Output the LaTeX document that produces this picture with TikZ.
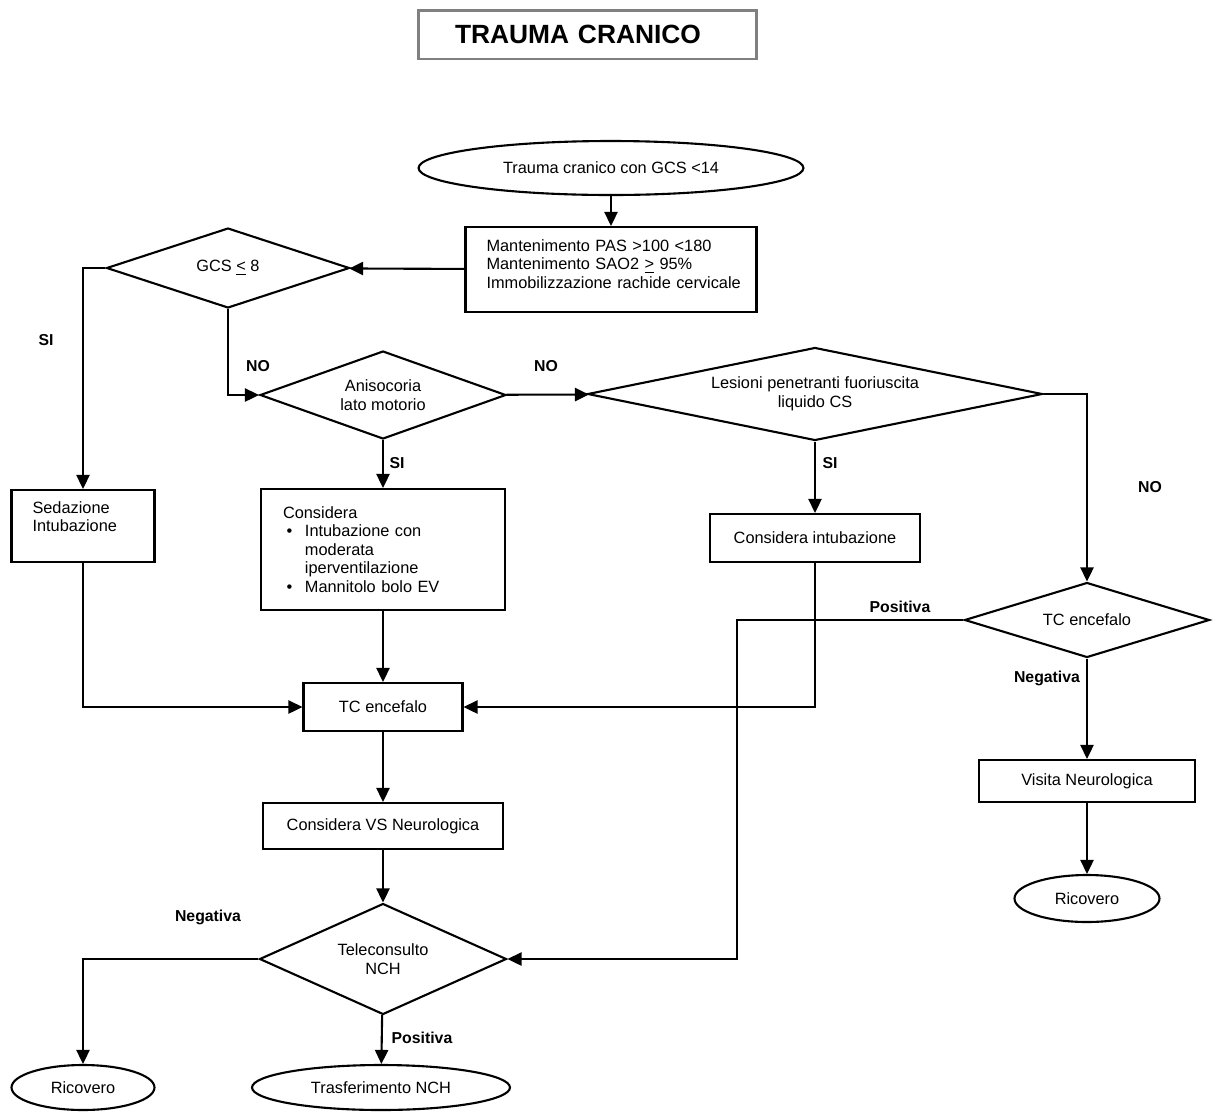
\documentclass[tikz,border=0pt]{standalone}
\usepackage{fontspec}
\setmainfont{Liberation Sans}
\usetikzlibrary{shapes.geometric,arrows.meta}

\newcommand{\fctext}{\fontsize{9.3}{10.6}\selectfont}
\newcommand{\fclabel}{\fontsize{9}{11}\selectfont\bfseries}

\tikzset{
  box/.style={draw,line width=1.2pt,rectangle,inner sep=0pt,font=\fctext},
  decision/.style={draw,line width=1.2pt,diamond,inner sep=0pt,align=center,font=\fctext},
  terminal/.style={draw,line width=1.2pt,ellipse,inner sep=0pt,font=\fctext},
  lbl/.style={font=\fclabel,inner sep=0pt},
  flow/.style={line width=1.2pt,-{Triangle[length=8pt,width=7.5pt]}}
}

\begin{document}
\begin{tikzpicture}[x=0.02cm,y=-0.02cm]
            \useasboundingbox (0,0) rectangle (1221,1113);

            % Nodes
            \node[draw=gray,line width=1.7pt,minimum width=6.78cm,minimum height=0.98cm,
                  text width=5.3cm,align=left,inner sep=0pt,
                  font=\fontsize{15}{18}\selectfont\bfseries] (title) at (587.5,34.5) {TRAUMA CRANICO};

            \node[terminal,minimum width=7.7cm,minimum height=1.08cm] (start) at (611,168) {Trauma cranico con GCS <14};
            \node[box,minimum width=5.82cm,minimum height=1.7cm,text width=4.98cm,align=left] (vitals) at (611,269.5)
                {\mbox{Mantenimento PAS >100 <180}\\\mbox{Mantenimento SAO2 \underline{>} 95\%}\\\mbox{Immobilizzazione rachide cervicale}\\[-4pt]~};

            \node[decision,aspect=3,minimum width=4.86cm,minimum height=1.6cm] (gcs) at (228,268) {GCS \underline{<} 8};
            \node[decision,aspect=2.8,minimum width=4.92cm,minimum height=1.76cm] (aniso) at (383,395) {Anisocoria\\lato motorio};
            \node[decision,aspect=4.9,minimum width=9.1cm,minimum height=1.86cm] (lesioni) at (815,394) {Lesioni penetranti fuoriuscita\\liquido CS};

            \node[box,minimum width=2.86cm,minimum height=1.44cm,text width=2.02cm,align=left] (sedaz) at (83,526)
                {Sedazione\\Intubazione\\~};
            \node[box,minimum width=4.88cm,minimum height=2.42cm,text width=4.0cm,align=left] (consid) at (383,549.5)
                {Considera\\
                 \makebox[12.5pt][l]{\hspace{2pt}\textbullet}Intubazione con\\
                 \hspace*{12.5pt}moderata\\
                 \hspace*{12.5pt}iperventilazione\\
                 \makebox[12.5pt][l]{\hspace{2pt}\textbullet}Mannitolo bolo EV};
            \node[box,minimum width=4.2cm,minimum height=0.96cm] (consint) at (815,538) {Considera intubazione};

            \node[decision,aspect=3.3,minimum width=4.9cm,minimum height=1.5cm] (tcr) at (1087,620) {TC encefalo};
            \node[box,minimum width=3.18cm,minimum height=0.96cm] (tc) at (383,707) {TC encefalo};
            \node[box,minimum width=4.8cm,minimum height=0.92cm] (vs) at (383,826) {Considera VS Neurologica};
            \node[box,minimum width=4.32cm,minimum height=0.84cm] (visita) at (1087,781) {Visita Neurologica};
            \node[terminal,minimum width=2.9cm,minimum height=0.94cm] (ricR) at (1087,898.5) {Ricovero};

            \node[decision,aspect=2.2,minimum width=4.94cm,minimum height=2.22cm] (tele) at (383,959) {Teleconsulto\\NCH};
            \node[terminal,minimum width=2.86cm,minimum height=0.9cm] (ricL) at (83,1087.5) {Ricovero};
            \node[terminal,minimum width=5.16cm,minimum height=0.9cm] (trasf) at (381,1087.5) {Trasferimento NCH};

            \coordinate (bend) at (737,620);

            % Labels
            \node[lbl] (siA) at (46,340) {SI};
            \node[lbl] (noA) at (258,366) {NO};
            \node[lbl] (noB) at (546,366) {NO};
            \node[lbl] (siB) at (397,463) {SI};
            \node[lbl] (siC) at (830,463) {SI};
            \node[lbl] (noC) at (1150,487) {NO};
            \node[lbl] (posA) at (900,607) {Positiva};
            \node[lbl] (negA) at (1047,678) {Negativa};
            \node[lbl] (negB) at (208,917) {Negativa};
            \node[lbl] (posB) at (422,1038) {Positiva};

            % Edges
            \draw[flow] (start) -- (vitals);
            \draw[flow] (vitals) -- (gcs);
            \draw[flow] (gcs.west) -| (sedaz.north);
            \draw[flow] (gcs.south) |- (aniso.west);
            \draw[flow] (aniso) -- (lesioni);
            \draw[flow] (aniso) -- (consid);
            \draw[flow] (lesioni.south) -- (consint.north);
            \draw[flow] (lesioni.east) -| (tcr.north);
            \draw[flow] (sedaz.south) |- (tc.west);
            \draw[flow] (consid) -- (tc);
            \draw[flow] (consint.south) |- (tc.east);
            \draw[flow] (tc) -- (vs);
            \draw[flow] (vs) -- (tele);
            \draw[flow] (tcr.west) -- (bend) |- (tele.east);
            \draw[flow] (tcr) -- (visita);
            \draw[flow] (visita) -- (ricR);
            \draw[flow] (tele.west) -| (ricL.north);
            \draw[flow] (tele) -- (trasf);
        \end{tikzpicture}
\end{document}
